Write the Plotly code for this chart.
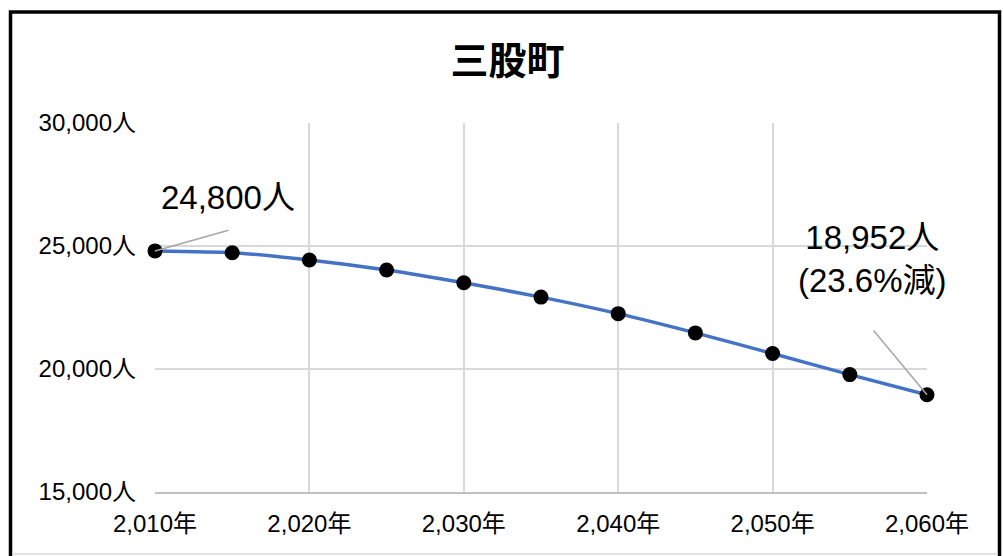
import plotly.graph_objects as go

# 三股町 推計人口
years = [2010, 2015, 2020, 2025, 2030, 2035, 2040, 2045, 2050, 2055, 2060]
population = [24800, 24727, 24430, 24022, 23504, 22922, 22249, 21467, 20628, 19772, 18952]

x_tick_vals = [2010, 2020, 2030, 2040, 2050, 2060]
x_tick_text = ["2,010年", "2,020年", "2,030年", "2,040年", "2,050年", "2,060年"]
y_tick_vals = [15000, 20000, 25000, 30000]
y_tick_text = ["15,000人", "20,000人", "25,000人", "30,000人"]

start_label = "24,800人"
end_label = "18,952人<br>(23.6%減)"
title_text = "三股町"

FONT = "Arial, 'Liberation Sans', 'Noto Sans CJK JP', sans-serif"
W, H = 1003, 556
L, R, T, B = 155, 76, 123, 64
plot_w = W - L - R
plot_h = H - T - B


def px_x(px):
    return (px - L) / plot_w


def px_y(py):
    return (H - B - py) / plot_h


fig = go.Figure()
fig.add_trace(go.Scatter(
    x=years, y=population,
    mode="lines+markers",
    line=dict(color="#4472C4", width=3.5, shape="spline", smoothing=0.6),
    marker=dict(color="black", size=15),
    cliponaxis=False,
    showlegend=False,
))

annotations = [
    # leader lines
    dict(x=years[0], y=population[0], xref="x", yref="y", text=" ",
         font=dict(size=1), showarrow=True, arrowhead=0, arrowwidth=1.5,
         arrowcolor="#A6A6A6", ax=75, ay=-21, standoff=0),
    dict(x=years[-1], y=population[-1], xref="x", yref="y", text=" ",
         font=dict(size=1), showarrow=True, arrowhead=0, arrowwidth=1.5,
         arrowcolor="#A6A6A6", ax=-55, ay=-66, standoff=0),
    # value labels
    dict(x=years[0], y=population[0], xref="x", yref="y", text=start_label,
         showarrow=False, xanchor="center", yanchor="middle",
         xshift=73, yshift=53, font=dict(size=33, color="black", family=FONT)),
    dict(x=years[-1], y=population[-1], xref="x", yref="y", text=end_label,
         showarrow=False, xanchor="center", yanchor="middle",
         xshift=-55, yshift=136, font=dict(size=33, color="black", family=FONT)),
]

shapes = [
    # outer frame
    dict(type="rect", xref="paper", yref="paper",
         x0=px_x(10.5), x1=px_x(999.5), y0=px_y(560), y1=px_y(12),
         line=dict(color="black", width=3.5), layer="above"),
    dict(type="line", xref="paper", yref="paper",
         x0=px_x(12), x1=px_x(998), y0=px_y(554), y1=px_y(554),
         line=dict(color="#D9D9D9", width=1.5)),
]

fig.update_layout(
    width=W, height=H,
    margin=dict(l=L, r=R, t=T, b=B),
    paper_bgcolor="white",
    plot_bgcolor="white",
    font=dict(family=FONT, color="black"),
    title=dict(text=title_text, x=0.506, xref="container", xanchor="center",
               y=1 - 61 / H, yref="container", yanchor="middle",
               font=dict(size=38, family="'Noto Sans CJK JP', sans-serif",
                         weight="bold", color="black")),
    annotations=annotations,
    shapes=shapes,
)

fig.update_xaxes(
    range=[2010, 2060],
    tickvals=x_tick_vals, ticktext=x_tick_text,
    tickfont=dict(size=24, family=FONT, color="black"),
    showgrid=True, gridcolor="#D9D9D9", gridwidth=1.5,
    showline=True, linecolor="#BFBFBF", linewidth=1.5,
    zeroline=False, ticks="", ticklabelstandoff=9,
)
fig.update_yaxes(
    range=[15000, 30000],
    tickvals=y_tick_vals, ticktext=y_tick_text,
    tickfont=dict(size=24, family=FONT, color="black"),
    showgrid=True, gridcolor="#D9D9D9", gridwidth=1.5,
    showline=False, zeroline=False, ticks="", ticklabelstandoff=18,
)

fig.write_html("out.html")
